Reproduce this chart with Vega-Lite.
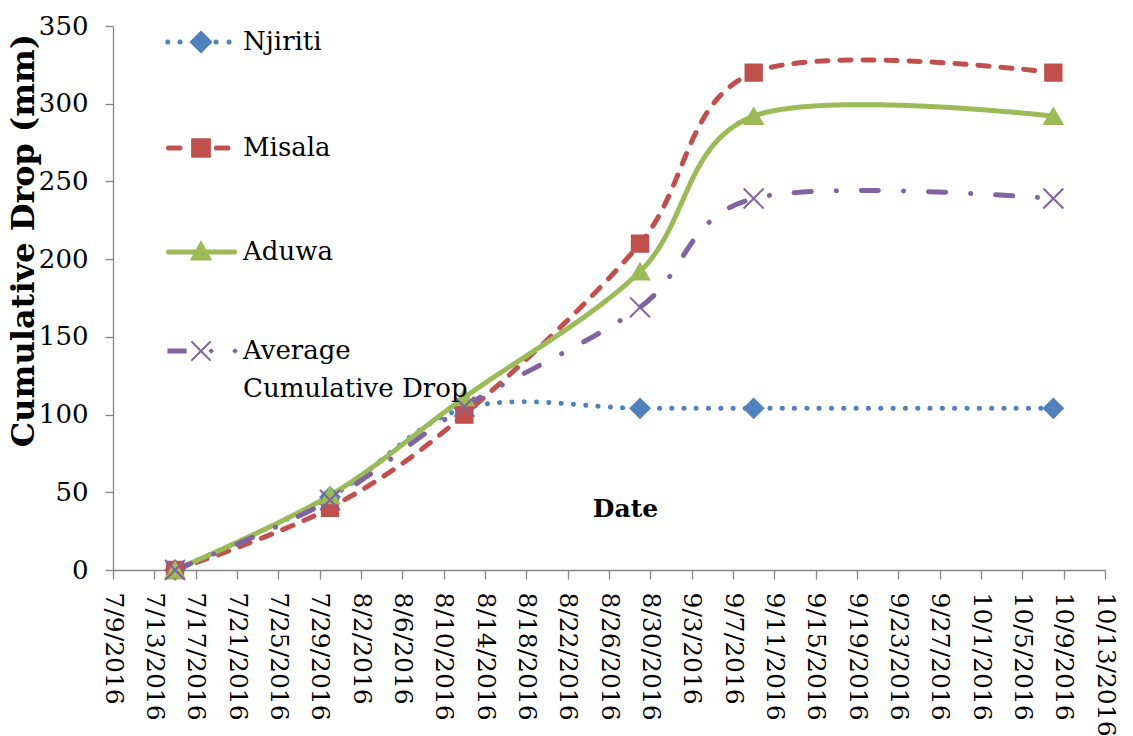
{
  "$schema": "https://vega.github.io/schema/vega-lite/v6.json",
  "width": 992,
  "height": 544,
  "autosize": {"type": "none"},
  "padding": {"left": 113, "top": 26, "right": 28, "bottom": 166},
  "background": "white",
  "config": {
    "view": {"stroke": null},
    "axis": {"grid": false}
  },
  "data": {
    "values": [
      {"series": "Njiriti", "date": "2016/07/15", "drop": 0},
      {"series": "Njiriti", "date": "2016/07/30", "drop": 47},
      {"series": "Njiriti", "date": "2016/08/12", "drop": 104},
      {"series": "Njiriti", "date": "2016/08/29", "drop": 104},
      {"series": "Njiriti", "date": "2016/09/09", "drop": 104},
      {"series": "Njiriti", "date": "2016/10/08", "drop": 104},
      {"series": "Misala", "date": "2016/07/15", "drop": 0},
      {"series": "Misala", "date": "2016/07/30", "drop": 40},
      {"series": "Misala", "date": "2016/08/12", "drop": 100},
      {"series": "Misala", "date": "2016/08/29", "drop": 210},
      {"series": "Misala", "date": "2016/09/09", "drop": 320},
      {"series": "Misala", "date": "2016/10/08", "drop": 320},
      {"series": "Aduwa", "date": "2016/07/15", "drop": 0},
      {"series": "Aduwa", "date": "2016/07/30", "drop": 48},
      {"series": "Aduwa", "date": "2016/08/12", "drop": 111},
      {"series": "Aduwa", "date": "2016/08/29", "drop": 192},
      {"series": "Aduwa", "date": "2016/09/09", "drop": 292},
      {"series": "Aduwa", "date": "2016/10/08", "drop": 292},
      {"series": "Average Cumulative Drop", "date": "2016/07/15", "drop": 0},
      {"series": "Average Cumulative Drop", "date": "2016/07/30", "drop": 45},
      {"series": "Average Cumulative Drop", "date": "2016/08/12", "drop": 105},
      {"series": "Average Cumulative Drop", "date": "2016/08/29", "drop": 169},
      {"series": "Average Cumulative Drop", "date": "2016/09/09", "drop": 239},
      {"series": "Average Cumulative Drop", "date": "2016/10/08", "drop": 239}
    ]
  },
  "encoding": {
    "x": {
      "field": "date",
      "type": "temporal",
      "scale": {"domain": [{"year": 2016, "month": 7, "date": 9}, {"year": 2016, "month": 10, "date": 13}]},
      "axis": {
        "values": [
          {"year": 2016, "month": 7, "date": 9}, {"year": 2016, "month": 7, "date": 13},
          {"year": 2016, "month": 7, "date": 17}, {"year": 2016, "month": 7, "date": 21},
          {"year": 2016, "month": 7, "date": 25}, {"year": 2016, "month": 7, "date": 29},
          {"year": 2016, "month": 8, "date": 2}, {"year": 2016, "month": 8, "date": 6},
          {"year": 2016, "month": 8, "date": 10}, {"year": 2016, "month": 8, "date": 14},
          {"year": 2016, "month": 8, "date": 18}, {"year": 2016, "month": 8, "date": 22},
          {"year": 2016, "month": 8, "date": 26}, {"year": 2016, "month": 8, "date": 30},
          {"year": 2016, "month": 9, "date": 3}, {"year": 2016, "month": 9, "date": 7},
          {"year": 2016, "month": 9, "date": 11}, {"year": 2016, "month": 9, "date": 15},
          {"year": 2016, "month": 9, "date": 19}, {"year": 2016, "month": 9, "date": 23},
          {"year": 2016, "month": 9, "date": 27}, {"year": 2016, "month": 10, "date": 1},
          {"year": 2016, "month": 10, "date": 5}, {"year": 2016, "month": 10, "date": 9},
          {"year": 2016, "month": 10, "date": 13}
        ],
        "format": "%-m/%-d/%Y",
        "formatType": "time",
        "domainColor": "#868686",
        "domainWidth": 1.3,
        "tickColor": "#868686",
        "tickWidth": 1.3,
        "labelColor": "black",
        "labelFont": "DejaVu Serif",
        "labelFontSize": 25,
        "labelAngle": 90,
        "labelAlign": "left",
        "labelBaseline": "middle",
        "labelPadding": 13,
        "labelOverlap": false,
        "labelFlush": false,
        "tickSize": 9,
        "title": "Date",
        "titleColor": "black",
        "titleFont": "DejaVu Serif",
        "titleFontSize": 25,
        "titleFontWeight": "bold",
        "titleX": 512,
        "titleY": -62,
        "titleAlign": "center",
        "titleBaseline": "middle"
      }
    },
    "y": {
      "field": "drop",
      "type": "quantitative",
      "scale": {"domain": [0, 350]},
      "axis": {
        "values": [0, 50, 100, 150, 200, 250, 300, 350],
        "domainColor": "#868686",
        "domainWidth": 1.3,
        "tickColor": "#868686",
        "tickWidth": 1.3,
        "tickSize": 8,
        "labelColor": "black",
        "labelFont": "DejaVu Serif",
        "labelFontSize": 26,
        "labelPadding": 17,
        "title": "Cumulative Drop (mm)",
        "titleColor": "black",
        "titleFont": "DejaVu Serif",
        "titleFontSize": 32,
        "titleFontWeight": "bold",
        "titleAngle": -90,
        "titleX": -80,
        "titleY": 214,
        "titleAlign": "center",
        "titleBaseline": "alphabetic"
      }
    }
  },
  "layer": [
    {
      "mark": {"type": "line", "interpolate": "cardinal", "strokeWidth": 5, "strokeCap": "round"},
      "encoding": {
        "color": {
          "field": "series",
          "type": "nominal",
          "scale": {
            "domain": ["Njiriti", "Misala", "Aduwa", "Average Cumulative Drop"],
            "range": ["#4F81BD", "#C0504D", "#9BBB59", "#8064A2"]
          },
          "legend": {
            "orient": "none",
            "legendX": 75,
            "legendY": 3,
            "title": null,
            "padding": 0,
            "offset": 0,
            "symbolSize": 4900,
            "symbolStrokeWidth": 5,
            "rowPadding": 69,
            "labelOffset": 29,
            "labelFont": "DejaVu Serif",
            "labelFontSize": 26,
            "labelColor": "black",
            "labelLimit": 0,
            "labelBaseline": "middle",
            "labelExpr": "datum.label == 'Average Cumulative Drop' ? ['Average', 'Cumulative Drop'] : datum.label",
            "encoding": {
              "symbols": {
                "shape": {"value": {"expr": "datum.value == 'Njiriti' ? 'M-0.95,0L-0.949,0M-0.6,0L-0.599,0M0.43,0L0.431,0M0.8,0L0.801,0M-0.23,0L0,-0.23L0.23,0L0,0.23Z' : datum.value == 'Misala' ? 'M-0.93,0L-0.6,0M0.44,0L0.77,0M-0.21,-0.21L0.21,-0.21L0.21,0.21L-0.21,0.21Z' : datum.value == 'Aduwa' ? 'M-0.93,0L0.96,0M0,-0.19L0.2,0.17L-0.2,0.17Z' : 'M-0.93,-0.043L-0.44,-0.043L-0.44,0.043L-0.93,0.043ZM-0.26,-0.26L0.26,0.26M-0.26,0.26L0.26,-0.26M0.25,0L0.29,-0.04L0.33,0L0.29,0.04ZM0.93,0L0.97,-0.04L1.01,0L0.97,0.04Z'"}},
                "size": {"value": 4900},
                "fill": {"value": {"expr": "scale('color', datum.value)"}},
                "stroke": {"value": {"expr": "scale('color', datum.value)"}},
                "strokeWidth": {"value": {"expr": "datum.value == 'Average Cumulative Drop' ? 2 : 5"}},
                "strokeDash": {"value": [1, 0]},
                "strokeCap": {"value": "round"},
                "opacity": {"value": 1},
                "fillOpacity": {"value": 1},
                "strokeOpacity": {"value": 1}
              },
              "labels": {
                "lineHeight": {"value": 38}
              }
            }
          }
        },
        "strokeDash": {
          "field": "series",
          "type": "nominal",
          "scale": {
            "range": [[1, 0], [17, 25, 0.1, 25], [11, 12], [0.1, 12.2]]
          },
          "legend": null
        }
      }
    },
    {
      "mark": {"type": "point", "filled": true, "opacity": 1, "strokeWidth": 2, "size": 330},
      "encoding": {
        "color": {"field": "series", "type": "nominal", "legend": null},
        "shape": {
          "field": "series",
          "type": "nominal",
          "scale": {
            "range": ["triangle-up", "M-1.1,-1.1L1.1,1.1M-1.1,1.1L1.1,-1.1", "M-0.9,-0.9L0.9,-0.9L0.9,0.9L-0.9,0.9Z", "M-1.05,0L0,-1.05L1.05,0L0,1.05Z"]
          },
          "legend": null
        },
        "stroke": {
          "field": "series",
          "type": "nominal",
          "scale": {
            "range": ["#9BBB59", "#8064A2", "#C0504D", "#4F81BD"]
          },
          "legend": null
        }
      }
    }
  ]
}
